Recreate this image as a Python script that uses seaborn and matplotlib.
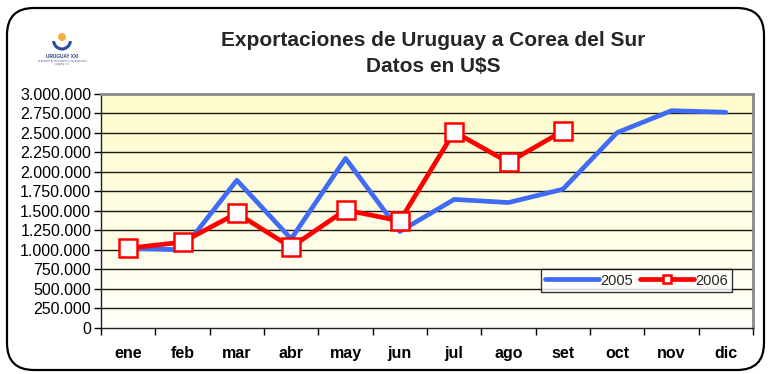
import numpy as np
import pandas as pd
import matplotlib
matplotlib.use("Agg")
import matplotlib.pyplot as plt
from matplotlib.patches import FancyBboxPatch, Ellipse, Arc
from matplotlib.ticker import FuncFormatter
import seaborn as sns

meses = ["ene", "feb", "mar", "abr", "may", "jun", "jul", "ago", "set", "oct", "nov", "dic"]
exp_2005 = [1021000, 1000000, 1890000, 1140000, 2170000, 1235000,
            1645000, 1605000, 1775000, 2500000, 2780000, 2760000]
exp_2006 = [1021000, 1098000, 1468000, 1034000, 1510000, 1370000,
            2510000, 2119000, 2519000]
y_ticks = list(range(0, 3000001, 250000))

sns.set_theme(style="white")
plt.rcParams["font.family"] = ["Liberation Sans", "DejaVu Sans"]

df05 = pd.DataFrame({"pos": np.arange(len(exp_2005)), "valor": exp_2005})
df06 = pd.DataFrame({"pos": np.arange(len(exp_2006)), "valor": exp_2006})

W, H = 769, 374
fig = plt.figure(figsize=(W / 100, H / 100), dpi=100)
ax = fig.add_axes([101 / W, 1 - 328 / H, 652 / W, 234.5 / H])

# soft yellow gradient behind the plot
grad = np.linspace(0, 1, 256).reshape(-1, 1)
top = np.array([1.0, 0.988, 0.80])
bot = np.array([1.0, 1.0, 0.975])
img = bot + (top - bot) * grad
ax.imshow(img[::-1].reshape(256, 1, 3), extent=(-0.5, 11.5, 0, 3000000),
          aspect="auto", origin="upper", zorder=0)

for v in y_ticks[1:-1]:
    ax.axhline(v, color="#1a1a10", lw=1.0, zorder=1)

sns.lineplot(data=df05, x="pos", y="valor", ax=ax, color="#3F6BF5", lw=3.4,
             label="2005", zorder=3, solid_capstyle="round")
sns.lineplot(data=df06, x="pos", y="valor", ax=ax, color="#FF0000", lw=3.4,
             marker="s", markersize=13, markerfacecolor="white",
             markeredgecolor="#FF0000", markeredgewidth=1.8,
             label="2006", zorder=4)

ax.set_xlim(-0.5, 11.5)
ax.set_ylim(0, 3000000)
ax.set_xlabel("")
ax.set_ylabel("")
ax.set_yticks(y_ticks)
ax.yaxis.set_major_formatter(FuncFormatter(lambda v, p: f"{int(v):,}".replace(",", ".")))
ax.set_xticks(np.arange(12))
ax.set_xticklabels(meses, fontweight="bold")
ax.set_xticks(np.arange(-0.5, 12, 1), minor=True)
ax.tick_params(axis="x", which="major", length=0, pad=13, labelsize=11.5, colors="black")
ax.tick_params(axis="x", which="minor", length=5, width=1, color="black", direction="out", bottom=True)
ax.tick_params(axis="y", which="major", length=5, width=1, color="black", direction="out",
               left=True, labelsize=11.5, pad=2, colors="black")

for side in ["left", "bottom"]:
    ax.spines[side].set_color("#222222")
    ax.spines[side].set_linewidth(1.0)
for side in ["top", "right"]:
    ax.spines[side].set_color("#8a8a8a")
    ax.spines[side].set_linewidth(2.0)

leg = ax.legend(loc="lower left", bbox_to_anchor=(0.675, 0.154), borderaxespad=0,
                ncol=2, frameon=True, fancybox=False, edgecolor="black",
                fontsize=10.5, handlelength=3.7, handletextpad=0.05,
                columnspacing=0.5, borderpad=0.3, markerscale=0.45)
leg.get_frame().set_linewidth(1.0)
leg.get_frame().set_facecolor("white")

fig.text(433 / W, 1 - 40 / H, "Exportaciones de Uruguay a Corea del Sur", ha="center",
         va="center", fontsize=15, fontweight="bold")
fig.text(433 / W, 1 - 66 / H, "Datos en U$S", ha="center", va="center",
         fontsize=15, fontweight="bold")

# rounded frame around the whole chart
frame = FancyBboxPatch((7 / W, 4 / H), 757 / W, 362 / H,
                       boxstyle="round,pad=0,rounding_size=0.035",
                       transform=fig.transFigure, fill=False, edgecolor="black",
                       lw=1.6, mutation_aspect=W / H)
fig.patches.append(frame)

# small institutional emblem
fig.patches.append(Ellipse((62 / W, 1 - 37 / H), 8 / W, 8 / H, transform=fig.transFigure,
                           facecolor="#F5B041", edgecolor="none"))
fig.patches.append(Arc((62 / W, 1 - 40 / H), 17 / W, 18 / H, theta1=195, theta2=345,
                       transform=fig.transFigure, color="#2B4BA0", lw=2.2))
fig.text(62 / W, 1 - 57 / H, "URUGUAY XXI", ha="center", va="center",
         fontsize=3.4, color="#2B3F80", fontweight="bold")
fig.text(62 / W, 1 - 61 / H, "promoción de inversiones y exportaciones", ha="center",
         va="center", fontsize=1.9, color="#6070A0")
fig.text(62 / W, 1 - 64 / H, "uruguay xxi", ha="center",
         va="center", fontsize=1.9, color="#6070A0")

fig.savefig("out.png", dpi=100)
